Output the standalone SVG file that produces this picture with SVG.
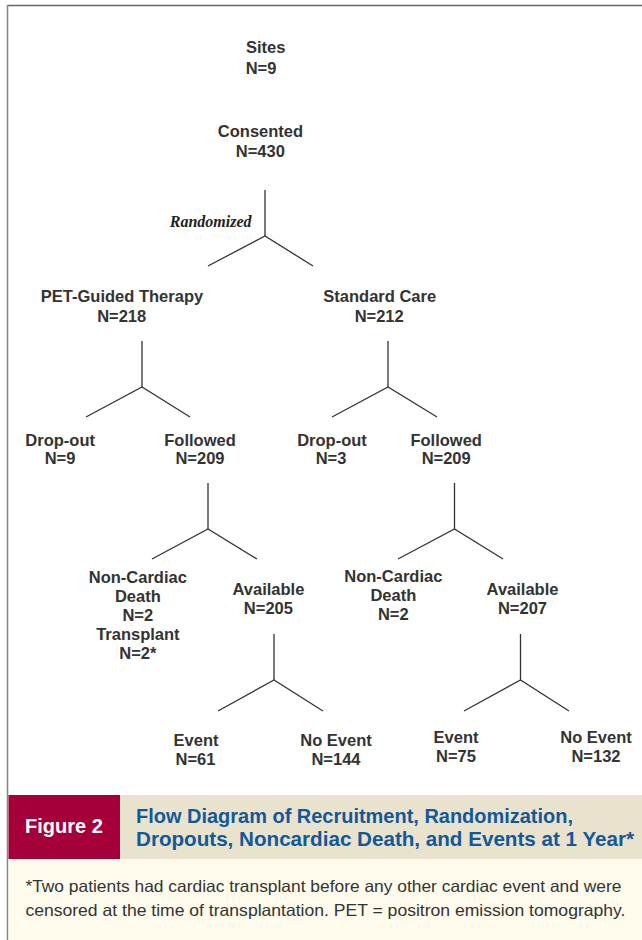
<svg xmlns="http://www.w3.org/2000/svg" width="642" height="940" viewBox="0 0 642 940">
<style>
.n{font-family:"Liberation Sans",Arial,sans-serif;font-weight:bold;font-size:16.5px;fill:#333;text-anchor:middle}
.c{stroke:#333;stroke-width:1.3;fill:none}
.rand{font-family:"Liberation Serif","Times New Roman",serif;font-weight:bold;font-style:italic;font-size:16px;fill:#222;text-anchor:end}
.fig{font-family:"Liberation Sans",Arial,sans-serif;font-weight:bold;font-size:20px;fill:#fff;text-anchor:middle}
.ttl{font-family:"Liberation Sans",Arial,sans-serif;font-weight:bold;font-size:20.5px;fill:#12589B}
.fn{font-family:"Liberation Sans",Arial,sans-serif;font-size:16.5px;fill:#333}
</style>
<rect x="0" y="0" width="642" height="940" fill="#fff"/>
<g id="frame">
<line x1="7.5" y1="5.5" x2="642" y2="5.5" stroke="#666" stroke-width="1.6"/>
<line x1="7.5" y1="5" x2="7.5" y2="940" stroke="#888" stroke-width="1.6"/>
</g>
<g id="connectors">
<polyline class="c" points="265,190 265,236"/><polyline class="c" points="208,266 265,236 313,266"/>
<polyline class="c" points="142,341 142,387"/><polyline class="c" points="86,417 142,387 190,417"/>
<polyline class="c" points="388,341 388,387"/><polyline class="c" points="332,417 388,387 437,417"/>
<polyline class="c" points="208,483 208,529"/><polyline class="c" points="152,559 208,529 257,559"/>
<polyline class="c" points="454.5,483 454.5,529"/><polyline class="c" points="398,559 454.5,529 503,559"/>
<polyline class="c" points="274,634 274,680"/><polyline class="c" points="218,711 274,680 323,711"/>
<polyline class="c" points="520.5,634 520.5,680"/><polyline class="c" points="464,711 520.5,680 569,711"/>
<text class="rand" x="251.5" y="227">Randomized</text>
</g>
<g id="sites"><text class="n" x="265.7" y="53.3">Sites</text><text class="n" x="261" y="73.5">N=9</text></g>
<g id="consented"><text class="n" x="260.5" y="137.3">Consented</text><text class="n" x="260.3" y="157">N=430</text></g>
<g id="pet"><text class="n" x="122" y="301.7">PET-Guided Therapy</text><text class="n" x="121.7" y="321.7">N=218</text></g>
<g id="standard"><text class="n" x="379.7" y="301.7">Standard Care</text><text class="n" x="379.2" y="321.7">N=212</text></g>
<g id="dropout1"><text class="n" x="60.2" y="445.5">Drop-out</text><text class="n" x="60" y="464">N=9</text></g>
<g id="followed1"><text class="n" x="200" y="445.5">Followed</text><text class="n" x="200" y="464">N=209</text></g>
<g id="dropout2"><text class="n" x="332" y="445.5">Drop-out</text><text class="n" x="331" y="464">N=3</text></g>
<g id="followed2"><text class="n" x="446.2" y="445.5">Followed</text><text class="n" x="446.2" y="464">N=209</text></g>
<g id="noncardiac1"><text class="n" x="137.8" y="582.5">Non-Cardiac</text><text class="n" x="137.8" y="601.5">Death</text><text class="n" x="137.8" y="620.5">N=2</text><text class="n" x="137.9" y="639.5">Transplant</text><text class="n" x="137.8" y="658.5">N=2*</text></g>
<g id="available1"><text class="n" x="268.4" y="595">Available</text><text class="n" x="268.4" y="613.5">N=205</text></g>
<g id="noncardiac2"><text class="n" x="393.3" y="581.7">Non-Cardiac</text><text class="n" x="393.3" y="600.7">Death</text><text class="n" x="393.3" y="619.5">N=2</text></g>
<g id="available2"><text class="n" x="522.5" y="595">Available</text><text class="n" x="522.5" y="613.5">N=207</text></g>
<g id="event1"><text class="n" x="196" y="746">Event</text><text class="n" x="195.5" y="764.5">N=61</text></g>
<g id="noevent1"><text class="n" x="336" y="746">No Event</text><text class="n" x="336" y="764.5">N=144</text></g>
<g id="event2"><text class="n" x="456" y="743">Event</text><text class="n" x="456" y="761.5">N=75</text></g>
<g id="noevent2"><text class="n" x="596" y="743">No Event</text><text class="n" x="596" y="761.5">N=132</text></g>
<g id="caption">
<rect x="8.5" y="795" width="111.5" height="64" fill="#A6003A"/>
<rect x="120" y="795" width="522" height="64" fill="#E9E2CC"/>
<rect x="8.5" y="859" width="633.5" height="81" fill="#FEFBEC"/>
<text class="fig" x="64" y="833">Figure 2</text>
<text class="ttl" x="136" y="823.3" textLength="437" lengthAdjust="spacingAndGlyphs">Flow Diagram of Recruitment, Randomization,</text>
<text class="ttl" x="136" y="846" textLength="498" lengthAdjust="spacingAndGlyphs">Dropouts, Noncardiac Death, and Events at 1 Year*</text>
<text class="fn" x="25.4" y="891.7" textLength="596" lengthAdjust="spacingAndGlyphs">*Two patients had cardiac transplant before any other cardiac event and were</text>
<text class="fn" x="25.4" y="916" textLength="600" lengthAdjust="spacingAndGlyphs">censored at the time of transplantation. PET = positron emission tomography.</text>
</g>
</svg>
